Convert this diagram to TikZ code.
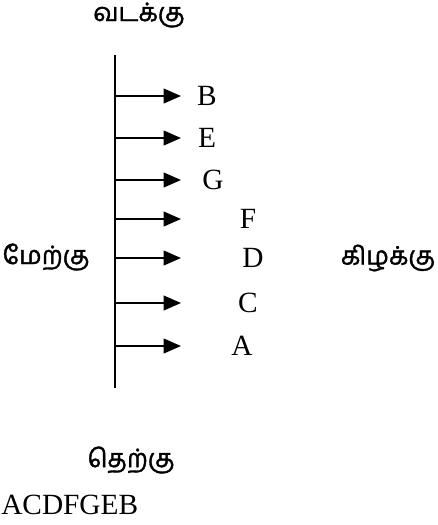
\documentclass[tikz,border=0pt]{standalone}
\usepackage{fontspec}
\setmainfont{Liberation Serif}
\newfontfamily\tamilfont[Script=Tamil,FakeBold=1.5]{Hind Madurai}
\usetikzlibrary{arrows.meta}

\begin{document}
\begin{tikzpicture}[
  x=0.75pt,y=-0.75pt,
  dirlabel/.style={font=\tamilfont\fontsize{19}{23}\selectfont,inner sep=0pt},
  place/.style   ={font=\fontsize{22}{26}\selectfont,inner sep=0pt},
  ray/.style     ={-{Triangle[length=13pt,width=11pt]},line width=1.5pt}]
\useasboundingbox (0,0) rectangle (437,525);
% --- the north-south line ---
\coordinate (top) at (115,55);
\coordinate (bot) at (115,388);
\draw[line width=1.5pt] (top) -- (bot);
% --- arrows pointing east, each with its letter ---
\foreach \name/\y/\lx in {B/96/207, E/138/207, G/180/213, F/219/248,
                          D/258/253, C/303/248, A/346/242}
{
  \coordinate (s\name) at (115,\y);
  \coordinate (t\name) at (181,\y);
  \draw[ray] (s\name) -- (t\name);
  \node[place] (l\name) at (\lx,\y) {\name};
}
% --- directions ---
\node[dirlabel] (north) at (139,15)  {வடக்கு};
\node[dirlabel] (west)  at (46,257)  {மேற்கு};
\node[dirlabel] (east)  at (388,258) {கிழக்கு};
\node[dirlabel] (south) at (131,460) {தெற்கு};
% --- answer ---
\node[place,anchor=west] (order) at (1,505) {ACDFGEB};
\end{tikzpicture}
\end{document}
